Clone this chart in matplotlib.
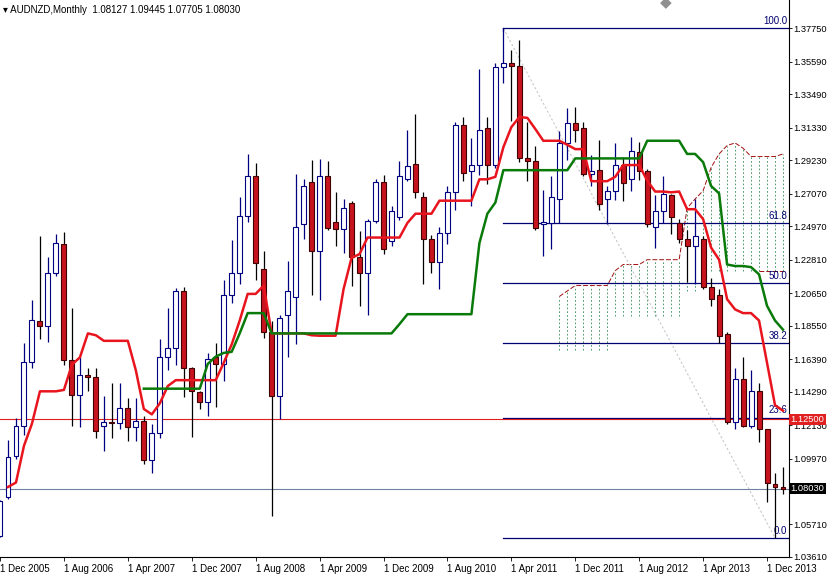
import matplotlib
matplotlib.use("Agg")
import matplotlib.pyplot as plt
import numpy as np

plt.rcParams['font.family'] = ['Liberation Sans', 'DejaVu Sans']

opens  = [1.0497,1.0746,1.1013,1.1210,1.1622,1.1888,1.1853,1.2196,1.2381,1.1634,
          1.1408,1.1538,1.1526,1.1210,1.1234,1.1227,1.1322,1.1198,1.1239,1.0989,
          1.1163,1.1655,1.1710,1.2079,1.1579,1.1424,1.1365,1.1655,1.1608,1.2055,
          1.2193,1.2566,1.2821,1.2222,1.1817,1.1400,1.1924,1.2043,1.2514,1.2785,
          1.2340,1.2823,1.2526,1.2478,1.2645,1.2300,1.2193,1.2531,1.2780,1.2400,
          1.2554,1.2804,1.2899,1.2685,1.2416,1.2264,1.2455,1.2721,1.3154,1.2852,
          1.2892,1.3130,1.2892,1.3525,1.3549,1.3530,1.2940,1.2918,1.2512,1.2519,
          1.2673,1.3035,1.3161,1.3130,1.2835,1.2859,1.2673,1.2726,1.2892,1.2804,
          1.2976,1.2852,1.2495,1.2597,1.2697,1.2519,1.2416,1.2369,1.2416,1.2107,
          1.2055,1.1798,1.1234,1.1508,1.1210,1.1431,1.1186,1.0830,1.08127]
highs  = [1.0730,1.1115,1.1258,1.1741,1.2019,1.2435,1.2298,1.2447,1.2459,1.1967,
          1.1655,1.1579,1.1579,1.1400,1.1484,1.1484,1.1389,1.1389,1.1270,1.1222,
          1.1769,1.1972,1.2098,1.2102,1.1591,1.1436,1.1679,1.1741,1.2150,1.2407,
          1.2685,1.2964,1.2907,1.2340,1.1888,1.1924,1.2274,1.2833,1.2800,1.2923,
          1.2930,1.2916,1.2721,1.2673,1.2661,1.2464,1.2543,1.2804,1.2828,1.2626,
          1.2916,1.3121,1.3221,1.2716,1.2440,1.2495,1.2757,1.3168,1.3202,1.3066,
          1.3511,1.3202,1.3549,1.3775,1.3637,1.3701,1.3173,1.3018,1.2733,1.2821,
          1.3114,1.3263,1.3268,1.3173,1.2954,1.3054,1.2757,1.3035,1.2947,1.3073,
          1.3042,1.2864,1.2697,1.2821,1.2702,1.2543,1.2471,1.2673,1.2435,1.2162,
          1.2090,1.1817,1.1579,1.1655,1.1570,1.1484,1.1186,1.0901,1.09445]
lows   = [1.0490,1.0734,1.0996,1.1151,1.1579,1.1769,1.1750,1.2174,1.1598,1.1205,
          1.1198,1.1431,1.1127,1.1044,1.1127,1.1186,1.1108,1.1108,1.0960,1.0901,
          1.1132,1.1567,1.1603,1.1393,1.1139,1.1317,1.1270,1.1329,1.1496,1.2000,
          1.2121,1.2526,1.2150,1.1774,1.0627,1.1251,1.1655,1.1734,1.2412,1.2050,
          1.2019,1.2471,1.2369,1.2321,1.2114,1.1979,1.1924,1.2519,1.2317,1.2369,
          1.2535,1.2788,1.2678,1.2121,1.2193,1.2090,1.2383,1.2602,1.2788,1.2626,
          1.2828,1.2769,1.2876,1.3423,1.3178,1.2911,1.2792,1.2471,1.2305,1.2352,
          1.2519,1.2923,1.3042,1.2821,1.2757,1.2602,1.2512,1.2665,1.2661,1.2726,
          1.2797,1.2495,1.2359,1.2519,1.2447,1.2388,1.2138,1.2126,1.2090,1.1984,
          1.1745,1.1222,1.1186,1.1198,1.1193,1.1103,1.0718,1.0484,1.07705]
closes = [1.0722,1.1008,1.1210,1.1622,1.1893,1.1853,1.2193,1.2388,1.1634,1.1408,
          1.1538,1.1526,1.1175,1.1234,1.1227,1.1322,1.1198,1.1239,1.0989,1.1163,
          1.1655,1.1710,1.2079,1.1579,1.1436,1.1365,1.1638,1.1608,1.2055,1.2193,
          1.2566,1.2821,1.2262,1.1817,1.1400,1.1907,1.2079,1.2495,1.2757,1.2340,
          1.2823,1.2483,1.2478,1.2614,1.2300,1.2193,1.2531,1.2780,1.2352,1.2597,
          1.2821,1.2888,1.2721,1.2416,1.2264,1.2455,1.2721,1.3154,1.2840,1.2892,
          1.3121,1.2892,1.3525,1.3549,1.3530,1.2940,1.2916,1.2483,1.2526,1.2685,
          1.3035,1.3161,1.3121,1.2835,1.2852,1.2638,1.2726,1.2892,1.2773,1.2983,
          1.2852,1.2512,1.2597,1.2702,1.2559,1.2412,1.2369,1.2431,1.2107,1.2026,
          1.1788,1.1234,1.1508,1.1210,1.1436,1.1186,1.0837,1.0813,1.08030]

tenkan = [None,1.0813,1.0842,1.1079,1.1222,1.1431,1.1431,1.1431,1.1440,1.1603,
          1.1650,1.1805,1.1793,1.1757,1.1757,1.1757,1.1757,1.1567,1.1317,1.1282,
          1.1353,1.1465,1.1503,1.1503,1.1503,1.1503,1.1503,1.1503,1.1615,1.1734,
          1.1888,1.2060,1.2060,1.2114,1.1805,1.1805,1.1805,1.1805,1.1805,1.1793,
          1.1790,1.1790,1.1790,1.2091,1.2293,1.2317,1.2424,1.2424,1.2424,1.2424,
          1.2424,1.2519,1.2578,1.2578,1.2578,1.2662,1.2662,1.2662,1.2662,1.2662,
          1.2800,1.2800,1.2816,1.3007,1.3137,1.3202,1.3197,1.3125,1.3049,1.3049,
          1.3049,1.3023,1.2995,1.2995,1.2788,1.2788,1.2788,1.2816,1.2892,1.2892,
          1.2892,1.2792,1.2721,1.2721,1.2716,1.2721,1.2607,1.2607,1.2543,1.2359,
          1.2281,1.2026,1.1960,1.1936,1.1936,1.1888,1.1615,1.1341,1.1306]
kijun = [None]*18 + [1.1448]*8 + [1.1608,1.1655,1.1679,1.1686,1.1805,1.1936,1.1936,1.1936] \
        + [1.1805]*16 + [1.1865] + [1.1929]*9 + [1.2388,1.2578,1.2650] + [1.2859]*9 \
        + [1.2935]*9 + [1.3049]*5 + [1.2964,1.2964,1.2911,1.2757,1.2709,1.2250,1.2240,1.2240,
        1.2233,1.2186,1.1983,1.1888,1.1829]
span_a = [None]*70 + [1.2043,1.2079,1.2114,1.2114,1.2114,1.2114,1.2114,1.2210,1.2250,1.2250,
          1.2250,1.2281,1.2281,1.2281,1.2281,1.2281,1.2614,1.2673,1.2726,1.2876,
          1.2964,1.3018,1.3035,1.3001,1.2947,1.2947,1.2947,1.2947,1.2964]
span_b = [None]*70 + [1.1698]*7 + [1.1917]*9 + [1.2079]*2 + [1.2210]*11

fib_levels = [1.3775, 1.2518, 1.2130, 1.1741, 1.1261, 1.0484]
fib_labels = ["100.0", "61.8", "50.0", "38.2", "23.6", "0.0"]
price_ticks = [1.37750,1.35590,1.33490,1.31330,1.29230,1.27070,1.24970,1.22810,
               1.20650,1.18550,1.16390,1.14290,1.12130,1.09970,1.05710,1.03610]
date_labels = ["1 Dec 2005","1 Aug 2006","1 Apr 2007","1 Dec 2007","1 Aug 2008",
               "1 Apr 2009","1 Dec 2009","1 Aug 2010","1 Apr 2011","1 Dec 2011",
               "1 Aug 2012","1 Apr 2013","1 Dec 2013"]
alert_level = 1.12500
last_price = 1.08030

fig = plt.figure(figsize=(8.28, 5.77), dpi=100)
ax = fig.add_axes([0, 20/577, 789/828, 557/577])
n = len(opens)
xs = np.arange(n)
ax.set_xlim(0.125, 98.75)
ax.set_ylim(1.0370, 1.3958)

# cloud
for i in range(n):
    if span_a[i] is not None:
        ax.vlines(i, span_b[i], span_a[i], colors="#2e8b57", linestyles=(0, (2, 2.5)), lw=0.6, zorder=1)
sa_x = [i for i in range(n) if span_a[i] is not None]
ax.plot(sa_x, [span_a[i] for i in sa_x], color="#a01010", lw=0.7, ls=(0, (5, 2)), zorder=1)
ax.plot([95, 98], [span_b[95], span_b[98]], color="#a01010", lw=0.7, ls=(0, (5, 2)), zorder=1)

# fibonacci
f0 = 63
for lv, lb in zip(fib_levels, fib_labels):
    ax.plot([f0, 98.75], [lv, lv], color="#000070", lw=0.9, zorder=2)
    ax.text(98.55, lv + 0.0015, lb, color="#000070", fontsize=7, ha="right", va="bottom")
ax.plot([f0, 97], [fib_levels[0], fib_levels[-1]], color="#c8c8c8", lw=0.8, ls=(0, (2, 2)), zorder=1)
ax.plot([f0, f0], [fib_levels[0], fib_levels[0] - 0.002], color="#000070", lw=0.9)

ax.axhline(alert_level, color="#e02020", lw=0.8, zorder=2)
ax.axhline(last_price, color="#7080a0", lw=0.8, zorder=2)

# candles
w = 0.62
for i in xs:
    o, h, l, c = opens[i], highs[i], lows[i], closes[i]
    bull = c >= o
    col = "#000080" if bull else "#000000"
    ax.vlines(i, l, h, colors=col, lw=0.9, zorder=3)
    bot, top = min(o, c), max(o, c)
    hgt = max(top - bot, 0.0006)
    ax.bar(i, hgt, bottom=bot, width=w, facecolor="white" if bull else "#c8141e",
           edgecolor="#000080" if bull else "#400000", lw=0.8, zorder=4)

tx = [i for i in range(n) if tenkan[i] is not None]
ax.plot(tx, [tenkan[i] for i in tx], color="#e8141e", lw=1.8, zorder=5)
kx = [i for i in range(n) if kijun[i] is not None]
ax.plot(kx, [kijun[i] for i in kx], color="#0a7a0a", lw=1.8, zorder=5)

ax.set_xticks(np.arange(0, 97, 8))
ax.set_xticklabels(date_labels, fontsize=7, ha="left")
ax.set_yticks(price_ticks)
ax.set_yticklabels([f"{p:.5f}" for p in price_ticks], fontsize=6.7)
ax.yaxis.tick_right()
ax.tick_params(axis="x", length=3, width=0.6, pad=2, colors="black")
ax.tick_params(axis="y", length=2, width=0.6, pad=1, colors="black")
for s in ["top", "left"]:
    ax.spines[s].set_visible(False)
ax.spines["right"].set_linewidth(0.8)
ax.spines["bottom"].set_linewidth(0.8)

ax.text(1.002, alert_level, "1.12500", transform=ax.get_yaxis_transform(), fontsize=6.7,
        color="white", va="center", ha="left", bbox=dict(boxstyle="square,pad=0.12", fc="#e02020", ec="none"))
ax.text(1.002, last_price, "1.08030", transform=ax.get_yaxis_transform(), fontsize=6.7,
        color="white", va="center", ha="left", bbox=dict(boxstyle="square,pad=0.12", fc="black", ec="none"))

fig.text(0.004, 0.983, "\u25be AUDNZD,Monthly  1.08127 1.09445 1.07705 1.08030", fontsize=7, va="center",
         family=['Liberation Sans', 'DejaVu Sans'])
fig.text(666/828, 0.995, "\u25c6", fontsize=11, color="#909090", ha="center", va="center",
         family='DejaVu Sans')

fig.savefig("out.png", dpi=100)
